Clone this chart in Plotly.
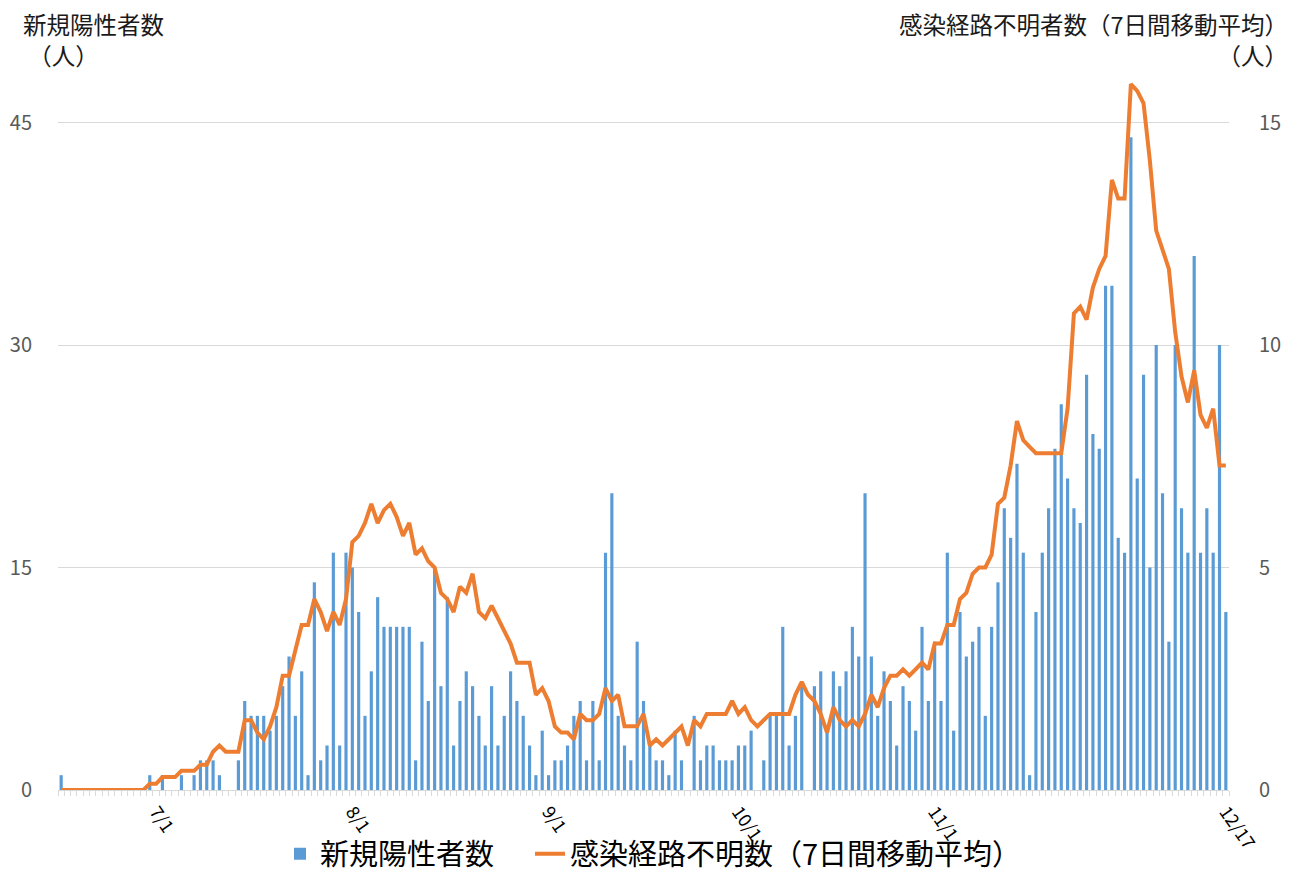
import pandas as pd
import plotly.graph_objects as go

# ---- data ----
start_date = "2020-06-16"
end_date = "2020-12-17"
dates = pd.date_range(start_date, end_date, freq="D")

new_cases = [
    1, 0, 0, 0, 0, 0, 0, 0, 0, 0, 0, 0, 0, 0, 1, 0, 1, 0, 0, 1,
    0, 1, 2, 2, 2, 1, 0, 0, 2, 6, 5, 5, 5, 4, 5, 7, 9, 5, 8, 1,
    14, 2, 3, 16, 3, 16, 15, 12, 5, 8, 13, 11, 11, 11, 11, 11, 2, 10, 6, 15,
    7, 13, 3, 6, 8, 7, 5, 3, 7, 3, 5, 8, 6, 5, 3, 1, 4, 1, 2, 2,
    3, 5, 6, 2, 6, 2, 16, 20, 5, 3, 2, 10, 6, 3, 2, 2, 1, 4, 2, 0,
    5, 2, 3, 3, 2, 2, 2, 3, 3, 4, 0, 2, 5, 5, 11, 3, 5, 7, 0, 7,
    8, 4, 8, 7, 8, 11, 9, 20, 9, 5, 8, 6, 3, 7, 6, 4, 11, 6, 10, 6,
    16, 4, 12, 9, 10, 11, 5, 11, 14, 19, 17, 22, 16, 1, 12, 16, 19, 23, 26, 21,
    19, 18, 28, 24, 23, 34, 34, 17, 16, 44, 21, 28, 15, 30, 20, 10, 30, 19, 16, 36,
    16, 19, 16, 30, 12,
]

unknown_route_7day_avg = [
    0, 0, 0, 0, 0, 0, 0, 0, 0, 0, 0, 0, 0, 0, 0.14, 0.14, 0.29, 0.29, 0.29, 0.43,
    0.43, 0.43, 0.57, 0.57, 0.86, 1.0, 0.86, 0.86, 0.86, 1.57, 1.57, 1.29, 1.14, 1.43, 1.86, 2.57, 2.57, 3.14, 3.71, 3.71,
    4.29, 4.0, 3.57, 4.0, 3.71, 4.29, 5.57, 5.71, 6.0, 6.43, 6.0, 6.29, 6.43, 6.14, 5.71, 6.0, 5.29, 5.43, 5.14, 5.0,
    4.43, 4.29, 4.0, 4.57, 4.43, 4.86, 4.0, 3.86, 4.14, 3.86, 3.57, 3.29, 2.86, 2.86, 2.86, 2.14, 2.29, 2.0, 1.43, 1.29,
    1.29, 1.14, 1.71, 1.57, 1.57, 1.71, 2.29, 2.0, 2.14, 1.43, 1.43, 1.43, 1.71, 1.0, 1.14, 1.0, 1.14, 1.29, 1.43, 1.0,
    1.57, 1.43, 1.71, 1.71, 1.71, 1.71, 2.0, 1.71, 1.86, 1.57, 1.43, 1.57, 1.71, 1.71, 1.71, 1.71, 2.14, 2.43, 2.14, 2.0,
    1.71, 1.29, 1.86, 1.57, 1.43, 1.57, 1.43, 1.71, 2.14, 1.86, 2.29, 2.57, 2.57, 2.71, 2.57, 2.71, 2.86, 2.71, 3.29, 3.29,
    3.71, 3.71, 4.29, 4.43, 4.86, 5.0, 5.0, 5.29, 6.43, 6.57, 7.29, 8.29, 7.86, 7.71, 7.57, 7.57, 7.57, 7.57, 7.57, 8.57,
    10.71, 10.86, 10.57, 11.29, 11.71, 12.0, 13.71, 13.29, 13.29, 15.86, 15.71, 15.43, 14.14, 12.57, 12.14, 11.71, 10.29, 9.29, 8.71, 9.43,
    8.43, 8.14, 8.57, 7.29, 7.29,
]

tick_dates = ["2020-07-01", "2020-08-01", "2020-09-01", "2020-10-01", "2020-11-01", "2020-12-17"]
tick_labels = ["7/1", "8/1", "9/1", "10/1", "11/1", "12/17"]

left_ticks = [0, 15, 30, 45]
right_ticks = [0, 5, 10, 15]

bar_name = "新規陽性者数"
line_name = "感染経路不明数（7日間移動平均）"
left_title = "新規陽性者数<br>\u00a0（人）"
right_title = "感染経路不明者数（7日間移動平均）<br>（人）"

assert len(dates) == len(new_cases) == len(unknown_route_7day_avg)

# ---- figure ----
FONT = "Noto Sans CJK JP, Noto Sans, sans-serif"
BLUE = "#5B9BD5"
ORANGE = "#ED7D31"
GRID = "#D9D9D9"

OFF = 8                      # default page body margin
FW, FH = 1293 - OFF, 874 - OFF
ML, MT = 50, 70
PW, PH = 1171, 712
MR = FW - ML - PW
MB = FH - MT - PH


def px(sx):
    return (sx - OFF - ML) / PW


def py(sy):
    return (MT + PH - (sy - OFF)) / PH


fig = go.Figure()
fig.add_trace(go.Bar(
    x=dates, y=new_cases, name=bar_name,
    marker=dict(color=BLUE, line=dict(width=0)),
    yaxis="y", legend="legend",
))
fig.add_trace(go.Scatter(
    x=dates, y=unknown_route_7day_avg, name=line_name,
    mode="lines", line=dict(color=ORANGE, width=4),
    yaxis="y2", legend="legend2",
))

x0 = pd.Timestamp(start_date) - pd.Timedelta(hours=12)
x1 = pd.Timestamp(end_date) + pd.Timedelta(hours=12)

legend_common = dict(
    orientation="h", xanchor="left", y=py(854), yanchor="middle",
    font=dict(size=29, family=FONT, color="#000000"),
    itemwidth=30, bgcolor="rgba(0,0,0,0)", borderwidth=0,
)

fig.update_layout(
    width=FW, height=FH,
    margin=dict(l=ML, r=MR, t=MT, b=MB, autoexpand=False),
    paper_bgcolor="white", plot_bgcolor="white",
    font=dict(family=FONT, color="#000000"),
    bargap=0.5,
    showlegend=True,
    legend=dict(x=px(280), **legend_common),
    legend2=dict(x=px(530), **legend_common),
    xaxis=dict(
        type="date", range=[x0, x1],
        tickmode="array", tickvals=tick_dates, ticktext=tick_labels,
        tickangle=55, ticks="", showgrid=False, zeroline=False,
        showline=True, linecolor=GRID, linewidth=1.3,
        tickfont=dict(size=18, color="#000000", family=FONT),
        ticklabelstandoff=3,
        minor=dict(
            tickmode="linear", tick0=x0, dtick=86400000,
            ticks="outside", ticklen=5, tickwidth=1, tickcolor=GRID,
            showgrid=False,
        ),
    ),
    yaxis=dict(
        range=[0, 48], tickmode="array", tickvals=left_ticks,
        showgrid=True, gridcolor=GRID, gridwidth=1, zeroline=False,
        showline=False, ticks="outside", ticklen=21, tickcolor="rgba(0,0,0,0)",
        tickfont=dict(size=20, color="#595959", family=FONT),
    ),
    yaxis2=dict(
        range=[0, 16], tickmode="array", tickvals=right_ticks,
        overlaying="y", side="right",
        showgrid=False, zeroline=False, showline=False,
        ticks="outside", ticklen=25, tickcolor="rgba(0,0,0,0)",
        tickfont=dict(size=20, color="#595959", family=FONT),
    ),
)

ann_font = dict(size=23.5, family=FONT, color="#1a1a1a")
fig.add_annotation(text=left_title, xref="paper", yref="paper",
                   x=px(21), y=py(40), xanchor="left", yanchor="middle",
                   align="left", showarrow=False, font=ann_font)
fig.add_annotation(text=right_title, xref="paper", yref="paper",
                   x=px(1290), y=py(40), xanchor="right", yanchor="middle",
                   align="right", showarrow=False, font=ann_font)

fig.write_html("out.html")
